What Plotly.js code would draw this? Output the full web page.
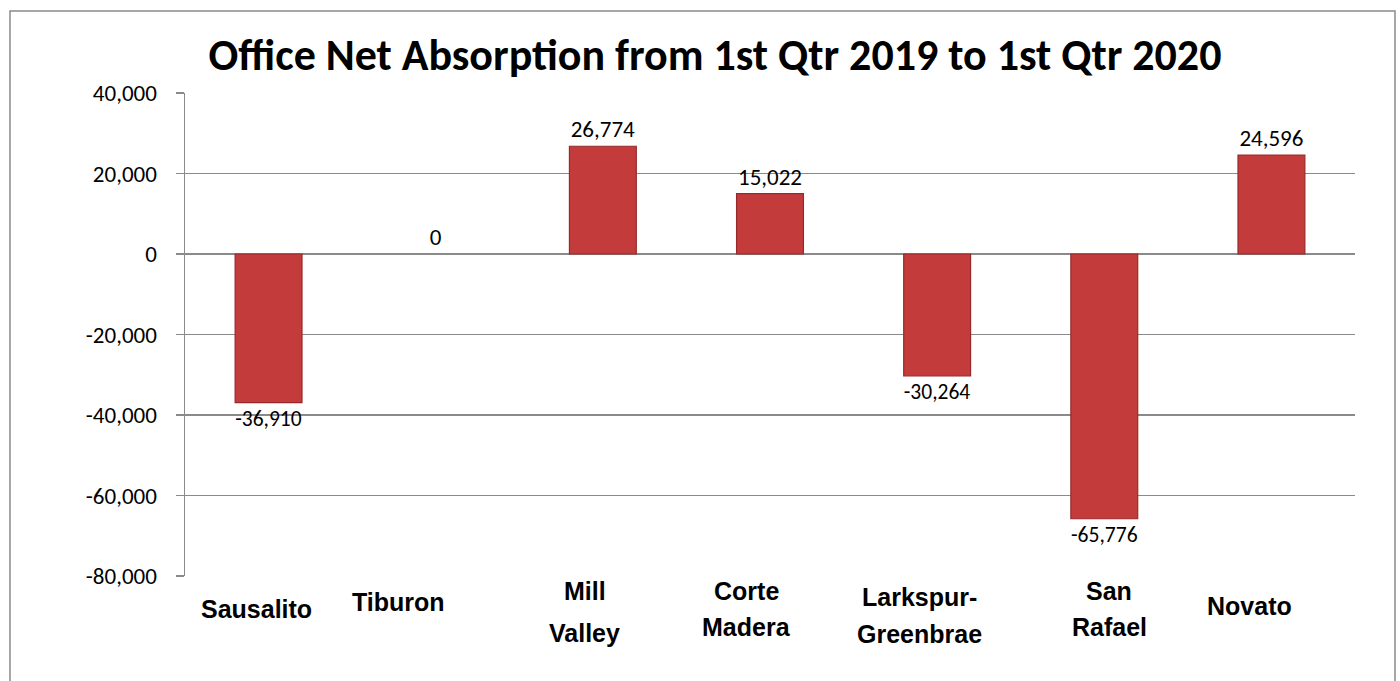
<!DOCTYPE html>
<html>
<head>
<meta charset="utf-8">
<script src="https://cdn.plot.ly/plotly-3.0.1.min.js"></script>
<style>
  html, body { margin: 0; padding: 0; background: #ffffff; }
  #chart { width: 1400px; height: 681px; }
</style>
</head>
<body>
<div id="chart"></div>
<script>
// ---- data ----
const categories = ['Sausalito', 'Tiburon', 'Mill Valley', 'Corte Madera', 'Larkspur-Greenbrae', 'San Rafael', 'Novato'];
const absorption = [-36910, 0, 26774, 15022, -30264, -65776, 24596];
const labelLines = [['Sausalito'], ['Tiburon'], ['Mill', 'Valley'], ['Corte', 'Madera'], ['Larkspur-', 'Greenbrae'], ['San', 'Rafael'], ['Novato']];
const yTickVals = [-80000, -60000, -40000, -20000, 0, 20000, 40000];
const yTickText = ['-80,000', '-60,000', '-40,000', '-20,000', '0', '20,000', '40,000'];
const chartTitle = 'Office Net Absorption from 1st Qtr 2019 to 1st Qtr 2020';

// ---- presentation (label placement, pixels) ----
const labelDx = [-12, -37, -18, -24, -18, 5, -22];
const labelRowsY = [[609], [602], [591, 633], [591, 627], [597, 634], [591, 627], [606]];

const plotTop = 93, plotBottom = 576, plotLeft = 185, plotRight = 1355;

const dataText = absorption.map(v => v.toLocaleString('en-US'));

const barTrace = {
  type: 'bar',
  x: categories,
  y: absorption,
  text: dataText,
  textposition: 'outside',
  cliponaxis: false,
  textfont: { family: 'Carlito, Lato, "Open Sans", sans-serif', size: 23, color: '#000000' },
  marker: {
    color: absorption.map(v => v === 0 ? 'rgba(0,0,0,0)' : '#C43B3B'),
    line: { color: '#962A2A', width: absorption.map(v => v === 0 ? 0 : 1.2) }
  },
  hoverinfo: 'x+y',
  showlegend: false
};

const annotations = [];
labelLines.forEach((lines, i) => {
  lines.forEach((line, j) => {
    annotations.push({
      xref: 'x', yref: 'paper',
      x: categories[i], y: 0,
      xanchor: 'center', yanchor: 'middle',
      xshift: labelDx[i],
      yshift: -(labelRowsY[i][j] - plotBottom),
      text: line,
      showarrow: false,
      font: { family: '"Liberation Sans", Arial, sans-serif', size: 25, color: '#000000', weight: 'bold' }
    });
  });
});

const H = plotBottom - plotTop, W = plotRight - plotLeft;
const layout = {
  width: 1400, height: 681,
  margin: { l: plotLeft, r: 1400 - plotRight, t: plotTop, b: 681 - plotBottom, pad: 0 },
  paper_bgcolor: '#ffffff',
  plot_bgcolor: '#ffffff',
  title: {
    text: '<b>' + chartTitle + '</b>',
    xref: 'container', yref: 'container',
    x: 715 / 1400, xanchor: 'center',
    y: 1 - 55 / 681, yanchor: 'middle',
    font: { family: 'Carlito, Lato, "Open Sans", sans-serif', size: 44, color: '#000000' }
  },
  bargap: 0.6,
  xaxis: {
    type: 'category',
    showticklabels: false,
    showgrid: false,
    zeroline: false,
    showline: false,
    ticks: ''
  },
  yaxis: {
    range: [-80000, 40000],
    tickvals: yTickVals,
    ticktext: yTickText,
    showgrid: true,
    gridcolor: '#8A8A8A',
    gridwidth: 1.5,
    zeroline: false,
    showline: true,
    linecolor: '#8A8A8A',
    linewidth: 1.5,
    ticks: 'outside',
    ticklen: 8,
    tickwidth: 1.5,
    tickcolor: '#8A8A8A',
    ticklabelstandoff: 14,
    tickfont: { family: 'Carlito, Lato, "Open Sans", sans-serif', size: 23, color: '#000000' }
  },
  shapes: [
    {
      type: 'rect', xref: 'paper', yref: 'paper', layer: 'below',
      x0: (10 - plotLeft) / W, x1: (1395 - plotLeft) / W,
      y0: (plotBottom - 720) / H, y1: (plotBottom - 11) / H,
      line: { color: '#8A8A8A', width: 1.5 },
      fillcolor: 'rgba(0,0,0,0)'
    }
  ],
  annotations: annotations
};

Plotly.newPlot('chart', [barTrace], layout, { displayModeBar: false, staticPlot: true });
</script>
</body>
</html>
